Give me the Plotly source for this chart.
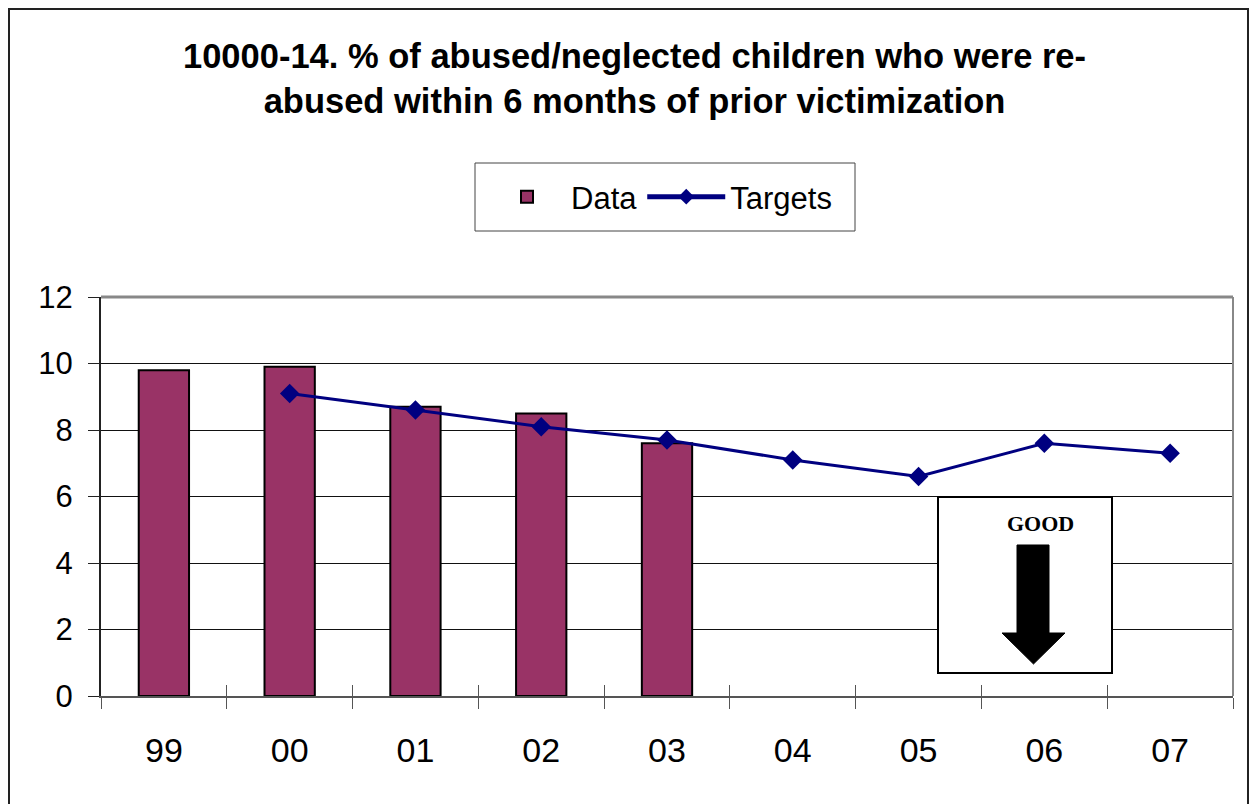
import plotly.graph_objects as go

categories = ["99", "00", "01", "02", "03", "04", "05", "06", "07"]
data_values = [9.8, 9.9, 8.7, 8.5, 7.6, None, None, None, None]
target_values = [None, 9.1, 8.6, 8.1, 7.7, 7.1, 6.6, 7.6, 7.3]
y_ticks = [0, 2, 4, 6, 8, 10, 12]

OFF = 8  # page body margin
W, H = 1257 - 2 * OFF, 812 - 2 * OFF
# plot area in screen pixels
SL, SR, ST, SB = 101, 1233, 297, 696
L, R, T, B = SL - OFF, SR - OFF, ST - OFF, SB - OFF

def px(x):
    return (x - OFF - L) / (R - L)

def py(y):
    return (B - (y - OFF)) / (B - T)

fig = go.Figure()
fig.add_trace(go.Bar(
    x=categories, y=data_values, name="Data",
    marker=dict(color="#993366", line=dict(color="black", width=2)),
))
fig.add_trace(go.Scatter(
    x=categories, y=target_values, name="Targets", mode="lines+markers",
    line=dict(color="#000080", width=3),
    marker=dict(symbol="diamond", size=15, color="#000080"),
))
# invisible trace for crossing ticks on x axis
fig.add_trace(go.Scatter(x=categories, y=[None] * 9, xaxis="x2", showlegend=False, hoverinfo="skip"))

def path_of(points, close=False):
    s = "M " + " L ".join(f"{px(a):.5f},{py(b):.5f}" for a, b in points)
    return s + (" Z" if close else "")

shapes = []
# outer frame (open at the bottom, as the reference is cropped)
shapes.append(dict(type="path", xref="paper", yref="paper",
                   path=path_of([(9, 830), (9, OFF + 1), (OFF + W - 1, OFF + 1), (OFF + W - 1, 830)]),
                   line=dict(color="#222222", width=2), fillcolor="rgba(0,0,0,0)", layer="below"))
# legend box
shapes.append(dict(type="rect", xref="paper", yref="paper",
                   x0=px(475), x1=px(855), y0=py(231), y1=py(163),
                   line=dict(color="#444444", width=1), fillcolor="white"))
# GOOD box
shapes.append(dict(type="rect", xref="paper", yref="paper",
                   x0=px(938), x1=px(1112), y0=py(673), y1=py(497),
                   line=dict(color="black", width=2), fillcolor="white"))
# arrow
pts = [(1017, 545), (1049, 545), (1049, 633), (1065, 633), (1033.5, 664),
       (1002, 633), (1017, 633)]
shapes.append(dict(type="path", xref="paper", yref="paper", path=path_of(pts, close=True),
                   fillcolor="black", line=dict(color="black", width=1)))
# plot area top/right border in gray
shapes.append(dict(type="line", xref="paper", yref="paper", x0=0, x1=1, y0=1, y1=1,
                   line=dict(color="#888888", width=3)))
shapes.append(dict(type="line", xref="paper", yref="paper", x0=1, x1=1, y0=0, y1=1,
                   line=dict(color="#888888", width=2)))

annotations = [
    dict(text="<b>GOOD</b>", xref="paper", yref="paper", x=px(1040), y=py(523),
         showarrow=False, font=dict(family="Liberation Serif", size=22, color="black"),
         xanchor="center", yanchor="middle"),
    dict(text="<b>10000-14. % of abused/neglected children who were re-<br>abused within 6 months of prior victimization</b>",
         xref="paper", yref="paper", x=px(634), y=py(79), showarrow=False,
         font=dict(family="Liberation Sans, Arial", size=34.5, color="black"),
         xanchor="center", yanchor="middle", align="center"),
]

fig.update_layout(
    width=W, height=H,
    margin=dict(l=L, r=W - R, t=T, b=H - B, pad=0),
    paper_bgcolor="white", plot_bgcolor="white",
    font=dict(family="Liberation Sans, Arial", color="black"),
    bargap=0.6,
    showlegend=True,
    legend=dict(orientation="h", xref="paper", yref="paper",
                x=px(660), y=py(197), xanchor="center", yanchor="middle",
                font=dict(size=31, family="Liberation Sans, Arial"),
                borderwidth=0, bgcolor="rgba(0,0,0,0)",
                itemsizing="constant", itemwidth=78),
    xaxis=dict(type="category", categoryorder="array", categoryarray=categories,
               range=[-0.5, 8.5], showgrid=False,
               showline=True, linecolor="#555555", linewidth=2,
               ticks="outside", tickson="boundaries", ticklen=11, tickcolor="#555555", tickwidth=1,
               tickfont=dict(size=34), ticklabelstandoff=23, zeroline=False),
    xaxis2=dict(type="category", categoryorder="array", categoryarray=categories,
                range=[-0.5, 8.5], overlaying="x", showgrid=False, showline=False,
                ticks="inside", tickson="boundaries", ticklen=11, tickcolor="#555555", tickwidth=1,
                showticklabels=False, side="bottom", zeroline=False),
    yaxis=dict(range=[0, 12], tickvals=y_ticks, showgrid=True, gridcolor="#111111", gridwidth=1,
               showline=True, linecolor="#222222", linewidth=2,
               ticks="outside", ticklen=11, tickcolor="#222222",
               tickfont=dict(size=31), ticklabelstandoff=9, zeroline=False),
    shapes=shapes,
    annotations=annotations,
)

fig.write_html("out.html")
